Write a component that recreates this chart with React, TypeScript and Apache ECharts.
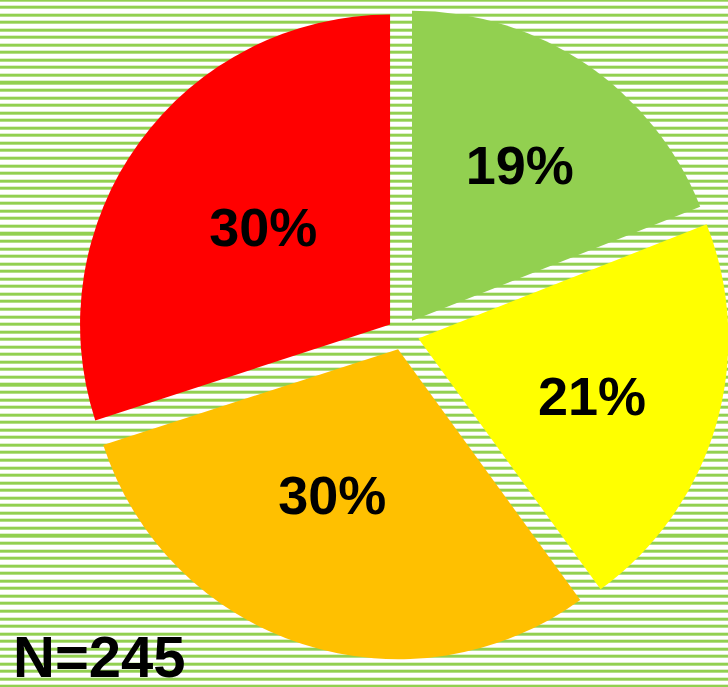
import React, { useEffect, useRef } from "react";
import * as echarts from "echarts";

const categories = ["A", "B", "C", "D"];
const values = [19, 21, 30, 30];
const colors = ["#92D050", "#FFFF00", "#FFC000", "#FF0000"];
const labelNudges = [
  [19, -25],
  [22, 13],
  [-17, -4],
  [1, -5],
];
const sampleSize = 245;

export default function App() {
  const ref = useRef<HTMLDivElement>(null);
  useEffect(() => {
    document.body.style.margin = "0";
    const chart = echarts.init(ref.current!, undefined, { renderer: "svg" });
    chart.setOption({
      animation: false,
      backgroundColor: "transparent",
      series: [
        {
          type: "pie",
          center: [403, 334],
          radius: [0, 310],
          startAngle: 90,
          clockwise: true,
          selectedMode: "multiple",
          selectedOffset: 16,
          avoidLabelOverlap: false,
          labelLine: { show: false },
          emphasis: { disabled: true },
          label: {
            show: true,
            position: "inside",
            formatter: "{c}%",
            color: "#000",
            fontFamily: "'Comic Sans MS', 'Liberation Sans', Arial, sans-serif",
            fontWeight: "bold",
            fontSize: 54,
          },
          labelLayout: (p: any) => {
            const n = labelNudges[p.dataIndex] || [0, 0];
            return { dx: n[0], dy: n[1] };
          },
          itemStyle: { borderWidth: 0 },
          data: categories.map((c, i) => ({
            name: c,
            value: values[i],
            selected: true,
            itemStyle: { color: colors[i] },
            select: { itemStyle: { color: colors[i] } },
          })),
        },
      ],
      graphic: [
        {
          type: "text",
          left: 13,
          bottom: 2,
          style: {
            text: "N=" + sampleSize,
            fontFamily: "'Comic Sans MS', 'Liberation Sans', Arial, sans-serif",
            fontWeight: "bold",
            fontSize: 58,
            fill: "#000",
          },
        },
      ],
    });
    return () => chart.dispose();
  }, []);
  return (
    <div
      ref={ref}
      style={{
        position: "absolute",
        left: 0,
        top: 0,
        width: 728,
        height: 687,
        backgroundColor: "#fff",
        backgroundImage:
          "repeating-linear-gradient(to bottom, #92D050 0px, #92D050 3px, #ffffff 3px, #ffffff 7.55px)",
        backgroundPosition: "0 5.7px",
      }}
    />
  );
}
